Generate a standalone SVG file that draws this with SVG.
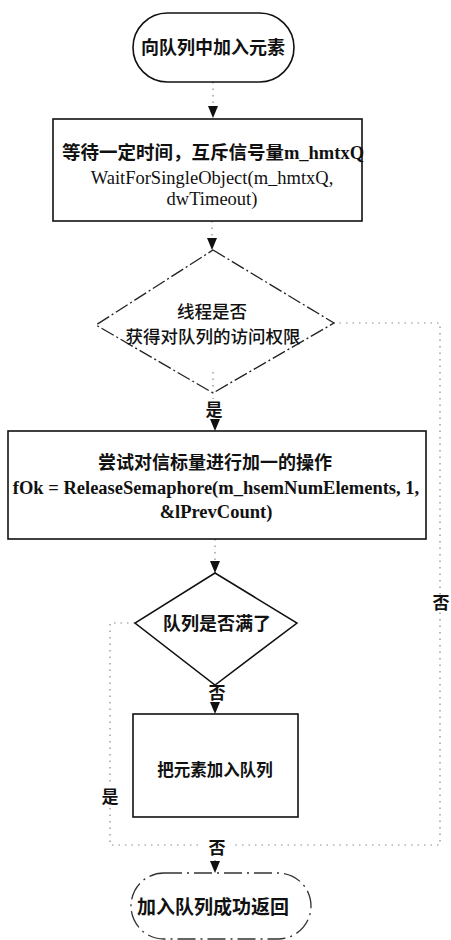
<svg xmlns="http://www.w3.org/2000/svg" width="451" height="940" viewBox="0 0 451 940">
<defs>
<style>
.box{fill:#fff;stroke:#111;stroke-width:1.6}
.dia{fill:none;stroke:#222;stroke-width:1.3;stroke-dasharray:14 3 2 3}
.dia2{fill:#fff;stroke:#111;stroke-width:1.5}
.term{fill:#fff;stroke:#111;stroke-width:1.6}
.term2{fill:#fff;stroke:#333;stroke-width:1.3;stroke-dasharray:18 5 2 5}
.cn{font-family:"Noto Sans CJK SC","Liberation Sans",sans-serif;font-weight:700;fill:#111;text-anchor:middle}
.cnl{font-family:"Noto Sans CJK SC","Liberation Sans",sans-serif;font-weight:500;fill:#111;text-anchor:middle}
.en{font-family:"Liberation Serif","Noto Sans CJK SC",serif;fill:#111;text-anchor:middle}
.enb{font-family:"Liberation Serif","Noto Sans CJK SC",serif;font-weight:700;fill:#111;text-anchor:middle}
.con{fill:none;stroke:#888;stroke-width:1.2;stroke-dasharray:1.5 5}
.lbl{font-family:"Noto Sans CJK SC","Liberation Sans",sans-serif;font-weight:700;fill:#111;text-anchor:middle;font-size:17px}
</style>
<marker id="arr" viewBox="0 0 12 10" refX="12" refY="5" markerWidth="12" markerHeight="11" markerUnits="userSpaceOnUse" orient="auto">
<path d="M0,0 L12,5 L0,10 Z" fill="#111"/>
</marker>
</defs>

<g id="connectors">
<path class="con" d="M213,82 V118" marker-end="url(#arr)"/>
<path class="con" d="M212,221 V250" marker-end="url(#arr)"/>
<path class="con" d="M213,372 V399"/>
<path class="con" d="M215,420 V431" marker-end="url(#arr)"/>
<path class="con" d="M215,539 V573" marker-end="url(#arr)"/>
<path class="con" d="M215,703 V714" marker-end="url(#arr)"/>
<path class="con" d="M215,860 V873" marker-end="url(#arr)"/>
<path class="con" d="M333,323 H440 V845 H232"/>
<path class="con" d="M135,623 H110 V785 M110,808 V845 H200"/>
</g>

<g id="start">
<rect class="term" x="133" y="13" width="161" height="69" rx="34.5" ry="34.5"/>
<text class="cn" x="213" y="54" font-size="18">向队列中加入元素</text>
</g>

<g id="wait">
<rect class="box" x="53" y="119" width="309" height="102"/>
<text x="213" y="159" font-size="19" text-anchor="middle"><tspan class="cn" font-size="18.5">等待一定时间，互斥信号量</tspan><tspan class="enb" font-size="18.5">m_hmtxQ</tspan></text>
<text class="en" x="212" y="184" font-size="18.5">WaitForSingleObject(m_hmtxQ,</text>
<text class="en" x="212" y="205" font-size="18.5">dwTimeout)</text>
</g>

<g id="check-access">
<polygon class="dia" points="213,250 334,323 213,393 96,325"/>
<text class="cnl" x="212" y="318" font-size="17.5">线程是否</text>
<text class="cnl" x="213" y="343" font-size="17.5">获得对队列的访问权限</text>
</g>
<text class="lbl" x="214" y="416">是</text>

<g id="release">
<rect class="box" x="8" y="431" width="418" height="108"/>
<text class="cn" x="215" y="469" font-size="18">尝试对信标量进行加一的操作</text>
<text class="enb" x="216" y="494" font-size="18.5">fOk = ReleaseSemaphore(m_hsemNumElements, 1,</text>
<text class="enb" x="216" y="518" font-size="18.5">&amp;lPrevCount)</text>
</g>

<g id="check-full">
<polygon class="dia2" points="215,573 297,623 215,685 135,623"/>
<text class="cn" x="217" y="630" font-size="18">队列是否满了</text>
</g>
<text class="lbl" x="217" y="699">否</text>
<text class="lbl" x="110" y="803">是</text>
<text class="lbl" x="441" y="609">否</text>

<g id="enqueue">
<rect class="box" x="133" y="714" width="165" height="103"/>
<text class="cn" x="215" y="776" font-size="16.5">把元素加入队列</text>
</g>
<text class="lbl" x="217" y="854">否</text>

<g id="end">
<rect class="term2" x="131" y="873" width="180" height="66" rx="33" ry="33"/>
<text class="cn" x="213" y="914" font-size="19">加入队列成功返回</text>
</g>
</svg>
